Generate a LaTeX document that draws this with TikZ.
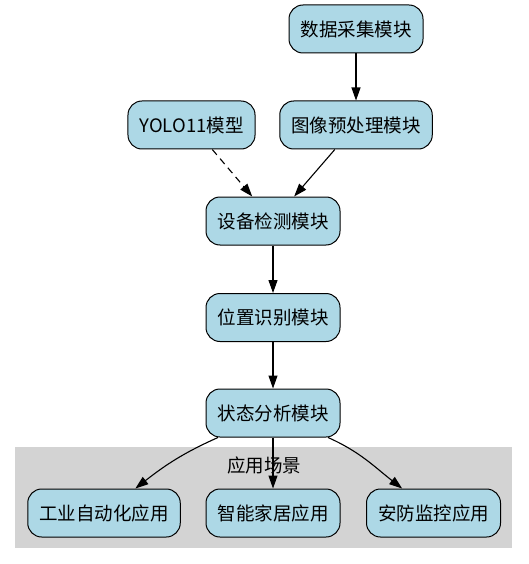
\documentclass[tikz,border=0pt]{standalone}
\usepackage{fontspec}
\setmainfont{Noto Sans CJK SC}
\usetikzlibrary{arrows.meta}

\definecolor{boxblue}{RGB}{173,216,230}
\definecolor{clustergray}{RGB}{211,211,211}

\begin{document}
\begin{tikzpicture}[x=1pt, y=1pt,
    module/.style={draw=black, line width=1pt, fill=boxblue, rounded corners=14pt,
                   minimum height=48pt, inner xsep=11.5pt, font=\fontsize{18.5}{22}\selectfont},
    arrow/.style={-{Triangle[length=13pt, width=9pt]}, line width=1.1pt}]

    \useasboundingbox (0,0) rectangle (528,-564);

    % Cluster
    \fill[clustergray] (15,-447) rectangle (512,-548);
    \node[font=\fontsize{18.5}{22}\selectfont] (apptitle) at (264,-465) {应用场景};

    % Modules
    \node[module] (collect) at (356,-29) {数据采集模块};
    \node[module] (yolo) at (191.5,-125) {YOLO11模型};
    \node[module] (preproc) at (356,-125) {图像预处理模块};
    \node[module] (detect) at (273,-221) {设备检测模块};
    \node[module] (locate) at (273,-317.5) {位置识别模块};
    \node[module] (status) at (273,-413) {状态分析模块};

    % Applications
    \node[module] (industry) at (104,-513) {工业自动化应用};
    \node[module] (home) at (273,-513) {智能家居应用};
    \node[module] (security) at (433.5,-513) {安防监控应用};

    % Edges
    \draw[arrow] (collect) -- (preproc);
    \draw[arrow, dash pattern=on 7pt off 5pt] (yolo) -- (detect);
    \draw[arrow] (preproc) -- (detect);
    \draw[arrow] (detect) -- (locate);
    \draw[arrow] (locate) -- (status);
    \draw[arrow] (status) to[out=204, in=38] (industry);
    \draw[arrow] (status) -- (home);
    \draw[arrow] (status) to[out=-24, in=142] (security);

\end{tikzpicture}
\end{document}
